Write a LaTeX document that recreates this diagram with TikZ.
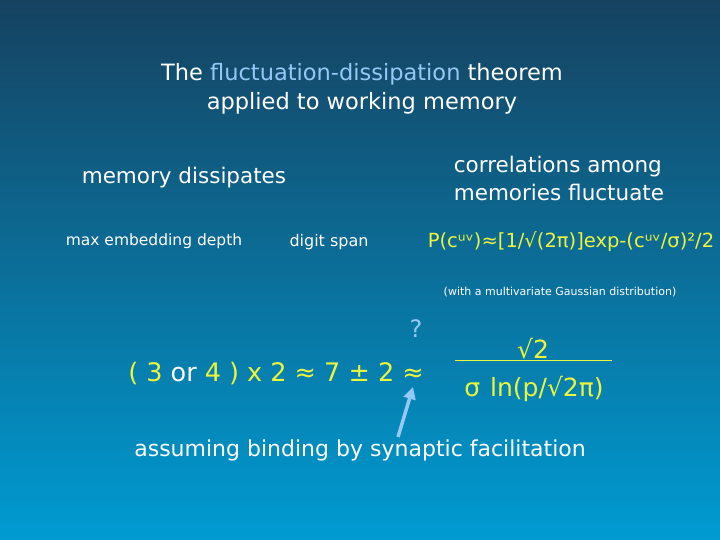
\documentclass[tikz,border=0pt]{standalone}
\usepackage{fontspec}
\setmainfont{DejaVu Sans}
\usetikzlibrary{arrows.meta}
\definecolor{bgtop}{RGB}{22,66,96}
\definecolor{bgbot}{RGB}{0,155,210}
\definecolor{yel}{RGB}{235,245,60}
\definecolor{lblue}{RGB}{150,200,245}
\tikzset{wt/.style={text=white,inner sep=0pt},
 yt/.style={text=yel,inner sep=0pt}}
\begin{document}
\begin{tikzpicture}[x=1pt,y=-1pt]
\shade[top color=bgtop,bottom color=bgbot] (0,0) rectangle (720,540);
\useasboundingbox (0,0) rectangle (720,540);
\node[wt,font=\fontsize{22.5}{29}\selectfont,align=center] (title) at (362,89) {The \textcolor{lblue}{fluctuation-dissipation} theorem\\applied to working memory};
\node[wt,font=\fontsize{21.5}{26}\selectfont] (md) at (184,178) {memory dissipates};
\node[wt,font=\fontsize{21.5}{28}\selectfont,align=left] (corr) at (559,178) {correlations among\\memories fluctuate};
\node[wt,font=\fontsize{15.5}{18}\selectfont] (med) at (154,241) {max embedding depth};
\node[wt,font=\fontsize{16}{18}\selectfont] (ds) at (329,242) {digit span};
\node[yt,font=\fontsize{19.5}{22}\selectfont] (pf) at (571,242) {P(cᵘᵛ)≈[1/√(2π)]exp-(cᵘᵛ/σ)²/2};
\node[wt,font=\fontsize{11}{13}\selectfont] (gd) at (560,292) {(with a multivariate Gaussian distribution)};
\node[text=lblue,inner sep=0pt,font=\fontsize{24}{28}\selectfont] (q) at (416,329) {?};
\node[yt,font=\fontsize{25.5}{30}\selectfont] (eq) at (276,374) {( 3 \textcolor{white}{or} 4 ) x 2 ≈ 7 ± 2 ≈};
\node[yt,font=\fontsize{25}{30}\selectfont] (num) at (533,349) {√2};
\node[yt,font=\fontsize{25}{30}\selectfont] (den) at (534,389) {σ\hspace{0.4em}ln(p/√2π)};
\coordinate (fl) at (455,360);
\coordinate (fr) at (612,360);
\draw[yel,line width=0.8pt] (fl) -- (fr);
\node[wt,font=\fontsize{22}{26}\selectfont] (bind) at (360,450) {assuming binding by synaptic facilitation};
\coordinate (as) at (398,437);
\coordinate (ae) at (413,387);
\draw[lblue,line width=3.5pt,-{Triangle[length=12pt,width=12pt]}] (as) -- (ae);
\end{tikzpicture}
\end{document}
